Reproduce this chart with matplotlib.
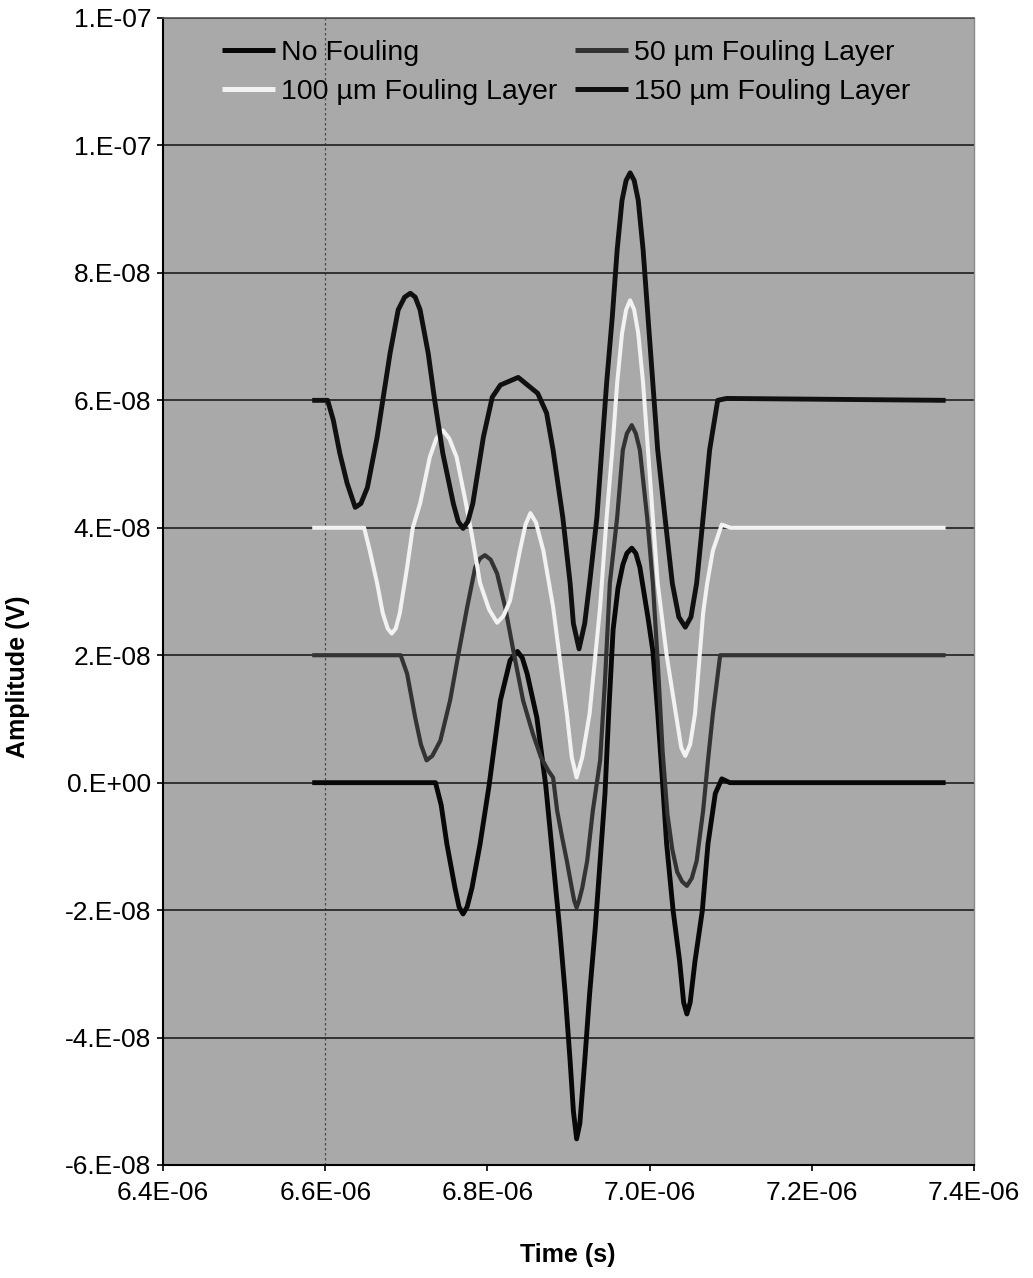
import matplotlib
matplotlib.use("Agg")
import matplotlib.pyplot as plt

plt.rcParams['font.family'] = ['Liberation Sans', 'DejaVu Sans']

# time in microseconds, amplitude in units of 1E-08 V
t_none = [6.584, 6.736, 6.743, 6.750, 6.760, 6.765, 6.770, 6.775, 6.781, 6.791,
          6.802, 6.816, 6.828, 6.837, 6.843, 6.849, 6.861, 6.872, 6.881, 6.889,
          6.896, 6.902, 6.906, 6.910, 6.914, 6.920, 6.926, 6.933, 6.939, 6.945,
          6.950, 6.955, 6.961, 6.967, 6.972, 6.978, 6.983, 6.988, 6.998, 7.004,
          7.010, 7.016, 7.021, 7.029, 7.037, 7.042, 7.046, 7.050, 7.056, 7.065,
          7.072, 7.081, 7.089, 7.099, 7.365]
a_none = [0.0, 0.0, -0.35, -0.96, -1.65, -1.95, -2.06, -1.95, -1.65, -0.96,
          -0.05, 1.29, 1.92, 2.06, 1.96, 1.71, 1.02, -0.05, -1.23, -2.28,
          -3.32, -4.37, -5.15, -5.59, -5.35, -4.37, -3.32, -2.28, -1.23, -0.17,
          1.20, 2.40, 3.05, 3.42, 3.60, 3.68, 3.60, 3.38, 2.59, 2.07,
          1.10, 0.0, -0.96, -2.01, -2.80, -3.45, -3.63, -3.45, -2.80, -2.01,
          -0.96, -0.17, 0.06, 0.0, 0.0]

t_50 = [6.584, 6.693, 6.701, 6.711, 6.718, 6.725, 6.732, 6.742, 6.754, 6.764,
        6.775, 6.785, 6.791, 6.797, 6.804, 6.812, 6.822, 6.832, 6.844, 6.856,
        6.866, 6.875, 6.881, 6.886, 6.892, 6.898, 6.904, 6.907, 6.910, 6.913,
        6.917, 6.923, 6.930, 6.939, 6.945, 6.951, 6.960, 6.967, 6.972, 6.978,
        6.983, 6.988, 6.997, 7.004, 7.010, 7.016, 7.022, 7.028, 7.034, 7.040,
        7.046, 7.052, 7.058, 7.066, 7.072, 7.078, 7.087, 7.365]
a_50 = [2.0, 2.0, 1.71, 1.02, 0.60, 0.35, 0.42, 0.66, 1.29, 2.0,
        2.75, 3.38, 3.52, 3.57, 3.50, 3.28, 2.75, 2.07, 1.29, 0.77,
        0.40, 0.19, 0.08, -0.44, -0.85, -1.23, -1.65, -1.85, -1.96, -1.85,
        -1.65, -1.23, -0.44, 0.35, 1.60, 3.13, 4.16, 5.22, 5.48, 5.61,
        5.48, 5.22, 4.16, 3.13, 1.90, 0.50, -0.50, -1.05, -1.40, -1.55,
        -1.62, -1.50, -1.23, -0.44, 0.35, 1.08, 2.0, 2.0]

t_100 = [6.584, 6.648, 6.655, 6.664, 6.671, 6.677, 6.682, 6.687, 6.692, 6.701,
         6.708, 6.717, 6.729, 6.737, 6.745, 6.753, 6.762, 6.772, 6.781, 6.791,
         6.802, 6.812, 6.820, 6.828, 6.840, 6.847, 6.853, 6.860, 6.869, 6.881,
         6.898, 6.904, 6.910, 6.917, 6.926, 6.939, 6.947, 6.954, 6.960, 6.966,
         6.971, 6.976, 6.981, 6.986, 6.992, 6.998, 7.004, 7.010, 7.021, 7.034,
         7.039, 7.044, 7.050, 7.056, 7.066, 7.071, 7.078, 7.089, 7.100, 7.365]
a_100 = [4.0, 4.0, 3.64, 3.13, 2.66, 2.42, 2.34, 2.42, 2.66, 3.38,
         4.0, 4.38, 5.11, 5.40, 5.53, 5.40, 5.11, 4.48, 3.88, 3.13,
         2.72, 2.51, 2.62, 2.86, 3.64, 4.05, 4.23, 4.08, 3.64, 2.76,
         1.08, 0.40, 0.08, 0.40, 1.08, 2.76, 4.16, 5.22, 6.27, 7.05,
         7.42, 7.57, 7.42, 7.05, 6.27, 5.22, 4.16, 3.13, 2.00, 0.95,
         0.55, 0.42, 0.60, 1.08, 2.66, 3.13, 3.64, 4.05, 4.0, 4.0]

t_150 = [6.584, 6.603, 6.610, 6.618, 6.627, 6.637, 6.644, 6.652, 6.664, 6.671,
         6.680, 6.690, 6.698, 6.705, 6.711, 6.717, 6.727, 6.735, 6.745, 6.758,
         6.764, 6.770, 6.776, 6.782, 6.795, 6.806, 6.816, 6.838, 6.862, 6.873,
         6.881, 6.893, 6.902, 6.906, 6.913, 6.920, 6.926, 6.935, 6.941, 6.947,
         6.954, 6.960, 6.966, 6.971, 6.976, 6.981, 6.986, 6.992, 6.998, 7.004,
         7.010, 7.019, 7.028, 7.036, 7.044, 7.051, 7.058, 7.066, 7.074, 7.084,
         7.095, 7.365]
a_150 = [6.0, 6.0, 5.69, 5.17, 4.70, 4.32, 4.38, 4.63, 5.42, 6.0,
         6.74, 7.42, 7.62, 7.68, 7.62, 7.42, 6.74, 6.0, 5.17, 4.38,
         4.10, 3.99, 4.10, 4.38, 5.42, 6.05, 6.24, 6.36, 6.11, 5.80,
         5.22, 4.16, 3.13, 2.50, 2.10, 2.50, 3.13, 4.16, 5.22, 6.27,
         7.31, 8.36, 9.14, 9.45, 9.57, 9.45, 9.14, 8.36, 7.31, 6.27,
         5.22, 4.16, 3.13, 2.60, 2.44, 2.60, 3.13, 4.16, 5.22, 6.0,
         6.03, 6.0]

series_names = ['No Fouling', '50 µm Fouling Layer',
                '100 µm Fouling Layer', '150 µm Fouling Layer']

x_ticks = [6.4e-6, 6.6e-6, 6.8e-6, 7.0e-6, 7.2e-6, 7.4e-6]
x_tick_labels = ['6.4E-06', '6.6E-06', '6.8E-06', '7.0E-06', '7.2E-06', '7.4E-06']
y_ticks = [-6e-8, -4e-8, -2e-8, 0.0, 2e-8, 4e-8, 6e-8, 8e-8, 1.0e-7, 1.2e-7]
y_tick_labels = ['-6.E-08', '-4.E-08', '-2.E-08', '0.E+00', '2.E-08',
                 '4.E-08', '6.E-08', '8.E-08', '1.E-07', '1.E-07']

W, H = 1033, 1278
fig = plt.figure(figsize=(W / 100, H / 100), dpi=100)
ax = fig.add_axes([163 / W, 1 - 1165 / H, 811 / W, 1147 / H])
ax.set_facecolor('#a9a9a9')

# horizontal gridlines plus the faint vertical line at 6.6E-06
ax.set_axisbelow(True)
ax.grid(axis='y', color='#1e1e1e', linewidth=1.2)
ax.axvline(6.6e-6, color='#4a4a4a', linewidth=0.9, linestyle=(0, (2, 2)), zorder=0.5)

colors = ['#080808', '#333333', '#f2f2f2', '#101010']
widths = [3.5, 3.0, 2.9, 3.5]
all_t = [t_none, t_50, t_100, t_150]
all_a = [a_none, a_50, a_100, a_150]
handles = []
for t, a, name, c, lw in zip(all_t, all_a, series_names, colors, widths):
    ln, = ax.plot([v * 1e-6 for v in t], [v * 1e-8 for v in a], color=c, lw=lw,
                  label=name, solid_joinstyle='round', solid_capstyle='butt')
    handles.append(ln)

ax.set_xlim(6.4e-6, 7.4e-6)
ax.set_ylim(-6e-8, 1.2e-7)
ax.set_xticks(x_ticks)
ax.set_xticklabels(x_tick_labels)
ax.set_yticks(y_ticks)
ax.set_yticklabels(y_tick_labels)
ax.tick_params(axis='both', direction='out', length=4.5, width=1.2,
               labelsize=19, color='black')
ax.tick_params(axis='x', pad=7)
ax.tick_params(axis='y', pad=4)

ax.spines['left'].set_linewidth(1.5)
ax.spines['bottom'].set_linewidth(1.5)
ax.spines['top'].set_color('#555555')
ax.spines['right'].set_color('#888888')
ax.spines['top'].set_linewidth(1.2)
ax.spines['right'].set_linewidth(1.0)

fig.text(18 / W, 1 - 677 / H, 'Amplitude (V)', rotation=90, ha='center',
         va='center', fontsize=18, fontweight='bold')
fig.text(568 / W, 1 - 1255 / H, 'Time (s)', ha='center', va='center',
         fontsize=18, fontweight='bold')

# legend fills row by row in the original, matplotlib fills columns
order = [0, 2, 1, 3]
leg = ax.legend([handles[i] for i in order], [series_names[i] for i in order],
                ncol=2, loc='upper left', bbox_to_anchor=(0.0727, 0.981),
                frameon=False, fontsize=20.5, handlelength=1.87,
                handletextpad=0.22, columnspacing=0.6, labelspacing=0.47,
                borderpad=0, borderaxespad=0)
for line in leg.get_lines():
    line.set_linewidth(3.6)

fig.savefig('out.png', dpi=100)
